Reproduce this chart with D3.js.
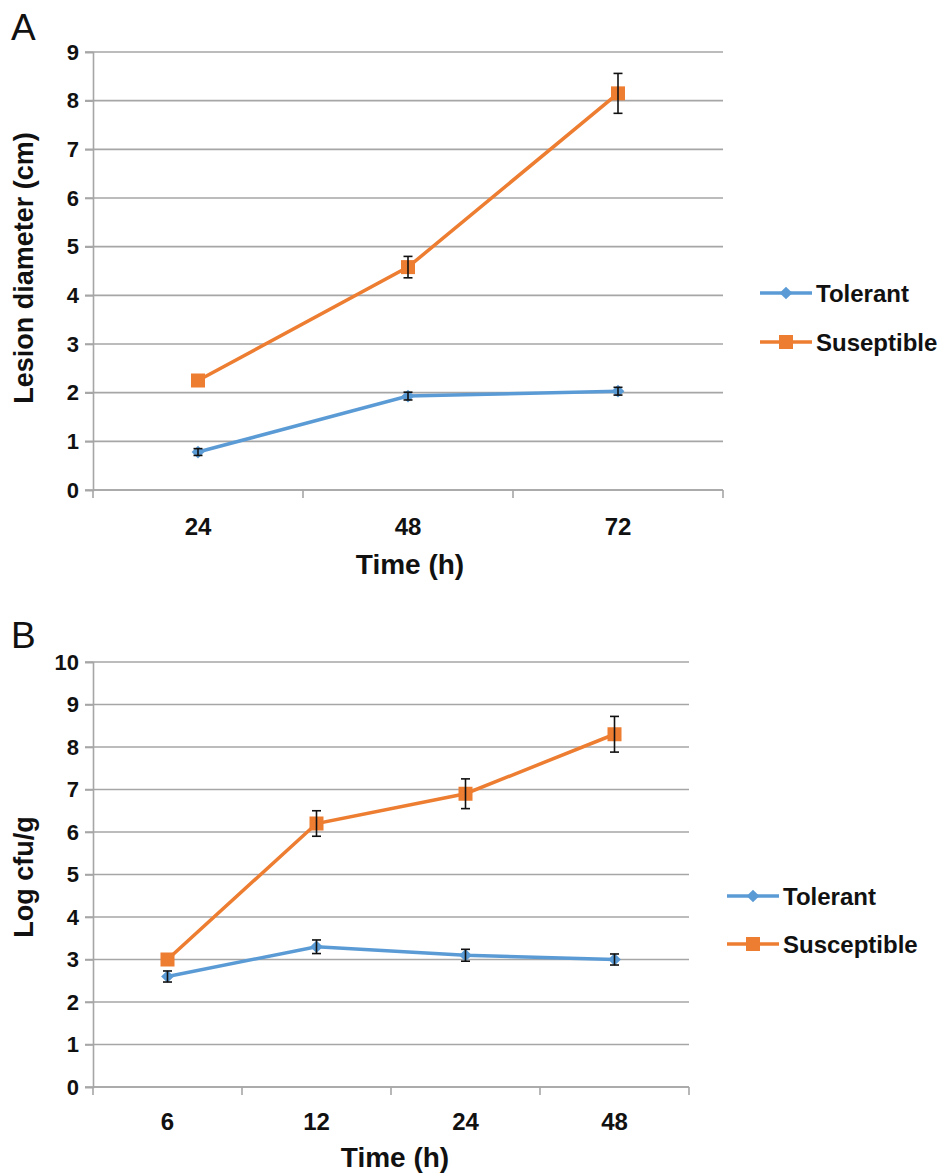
<!DOCTYPE html>
<html><head><meta charset="utf-8">
<script src="https://cdn.jsdelivr.net/npm/d3@7"></script>
<style>body{margin:0;background:#fff}svg{display:block}text{font-family:"Liberation Sans",Arial,sans-serif}</style>
</head><body>
<script>
// Panel A data
const catsA = ["24","48","72"];
const tolA = [0.78, 1.93, 2.03];
const tolAErr = [0.07, 0.08, 0.08];
const susA = [2.25, 4.58, 8.15];
const susAErr = [0, 0.22, 0.41];
const ticksA = [0,1,2,3,4,5,6,7,8,9];
// Panel B data
const catsB = ["6","12","24","48"];
const tolB = [2.6, 3.3, 3.1, 3.0];
const tolBErr = [0.13, 0.16, 0.14, 0.13];
const susB = [3.0, 6.2, 6.9, 8.3];
const susBErr = [0, 0.3, 0.35, 0.42];
const ticksB = [0,1,2,3,4,5,6,7,8,9,10];
const seriesNames = ["Tolerant","Suseptible"];
const seriesNamesB = ["Tolerant","Susceptible"];

const W=948,H=1175;
const svg=d3.select("body").append("svg").attr("width",W).attr("height",H);
const BLUE="#5b9bd5", ORANGE="#ed7d31", GRID="#a6a6a6", INK="#111";
const FF="Liberation Sans, Arial, sans-serif";

function diamond(g,px,py,s,c){
  g.append("rect").attr("x",-s/2).attr("y",-s/2).attr("width",s).attr("height",s)
    .attr("transform",`translate(${px},${py}) rotate(45)`).attr("fill",c);
}

function panel(o){
  const g=svg.append("g");
  const x=d3.scaleBand().domain(o.cats).range([o.x0,o.x1]);
  const y=d3.scaleLinear().domain([0,o.ymax]).range([o.y0,o.y1]);
  g.selectAll(".grid").data(o.ticks).enter().append("line")
    .attr("x1",o.x0-8).attr("x2",o.x1).attr("y1",d=>y(d)).attr("y2",d=>y(d))
    .attr("stroke",GRID).attr("stroke-width",1.6);
  const ya=g.append("g").attr("transform",`translate(${o.x0},0)`)
    .call(d3.axisLeft(y).tickValues(o.ticks).tickSize(8).tickPadding(6).tickFormat(d3.format("d")));
  ya.select(".domain").attr("stroke",GRID).attr("stroke-width",1.6);
  ya.selectAll(".tick line").attr("stroke",GRID).attr("stroke-width",1.6);
  ya.selectAll("text").attr("font-size",22).attr("font-weight","bold").attr("fill",INK).attr("font-family",FF);
  const xa=g.append("g").attr("transform",`translate(0,${o.y0})`)
    .call(d3.axisBottom(x).tickSize(0).tickPadding(o.xtPad));
  xa.select(".domain").remove();
  xa.selectAll("text").attr("font-size",24).attr("font-weight","bold").attr("fill",INK).attr("font-family",FF);
  const bounds=o.cats.map(c=>x(c)).concat([o.x1]);
  g.selectAll(".xt").data(bounds).enter().append("line")
    .attr("x1",d=>d).attr("x2",d=>d).attr("y1",o.y0).attr("y2",o.y0+8)
    .attr("stroke",GRID).attr("stroke-width",1.6);
  g.append("line").attr("x1",o.x0).attr("x2",o.x1).attr("y1",o.y0).attr("y2",o.y0).attr("stroke",GRID).attr("stroke-width",1.6);
  const cx=c=>x(c)+x.bandwidth()/2;
  const series=[{v:o.tol,e:o.tolErr,c:BLUE,m:"diamond"},{v:o.sus,e:o.susErr,c:ORANGE,m:"square"}];
  series.forEach(s=>{
    const line=d3.line().x((d,i)=>cx(o.cats[i])).y(d=>y(d));
    g.append("path").attr("d",line(s.v)).attr("fill","none").attr("stroke",s.c).attr("stroke-width",3.5);
    s.v.forEach((v,i)=>{
      const px=cx(o.cats[i]);
      if(s.m==="square"){
        g.append("rect").attr("x",px-7).attr("y",y(v)-7).attr("width",14).attr("height",14).attr("fill",s.c);
      } else {
        diamond(g,px,y(v),9,s.c);
      }
      const e=s.e[i];
      if(e>0){
        const eg=g.append("g").attr("stroke",INK).attr("stroke-width",1.6);
        eg.append("line").attr("x1",px).attr("x2",px).attr("y1",y(v+e)).attr("y2",y(v-e));
        eg.append("line").attr("x1",px-4.5).attr("x2",px+4.5).attr("y1",y(v+e)).attr("y2",y(v+e));
        eg.append("line").attr("x1",px-4.5).attr("x2",px+4.5).attr("y1",y(v-e)).attr("y2",y(v-e));
      }
    });
  });
  g.append("text").attr("x",o.xlabX).attr("y",o.xlabY).attr("text-anchor","middle")
    .attr("font-size",28).attr("font-weight","bold").attr("fill",INK).text("Time (h)");
  g.append("text").attr("transform",`translate(33,${o.ylabY}) rotate(-90)`).attr("text-anchor","middle")
    .attr("font-size",27).attr("font-weight","bold").attr("fill",INK).text(o.ylab);
  g.append("text").attr("x",11).attr("y",o.letterY).attr("font-size",37).attr("fill",INK).text(o.letter);
  o.names.forEach((n,i)=>{
    const ly=o.legY+i*o.legGap, c=i===0?BLUE:ORANGE;
    g.append("line").attr("x1",o.legX).attr("x2",o.legX+52).attr("y1",ly).attr("y2",ly).attr("stroke",c).attr("stroke-width",3.5);
    if(i===0) diamond(g,o.legX+26,ly,9,c);
    else g.append("rect").attr("x",o.legX+19).attr("y",ly-7).attr("width",14).attr("height",14).attr("fill",c);
    g.append("text").attr("x",o.legX+56).attr("y",ly).attr("dy","0.36em").attr("font-size",24).attr("font-weight","bold").attr("fill",INK).text(n);
  });
}

panel({cats:catsA,tol:tolA,tolErr:tolAErr,sus:susA,susErr:susAErr,ticks:ticksA,ymax:9,
  x0:93,x1:723,y0:490,y1:52,xtPad:28,xlabX:410,xlabY:574,ylabY:268,ylab:"Lesion diameter (cm)",letter:"A",letterY:40,
  legX:760,legY:293,legGap:49,names:seriesNames});
panel({cats:catsB,tol:tolB,tolErr:tolBErr,sus:susB,susErr:susBErr,ticks:ticksB,ymax:10,
  x0:93,x1:689,y0:1087,y1:662,xtPad:26,xlabX:395,xlabY:1167,ylabY:877,ylab:"Log cfu/g",letter:"B",letterY:648,
  legX:727,legY:896,legGap:48,names:seriesNamesB});
</script>
</body></html>
